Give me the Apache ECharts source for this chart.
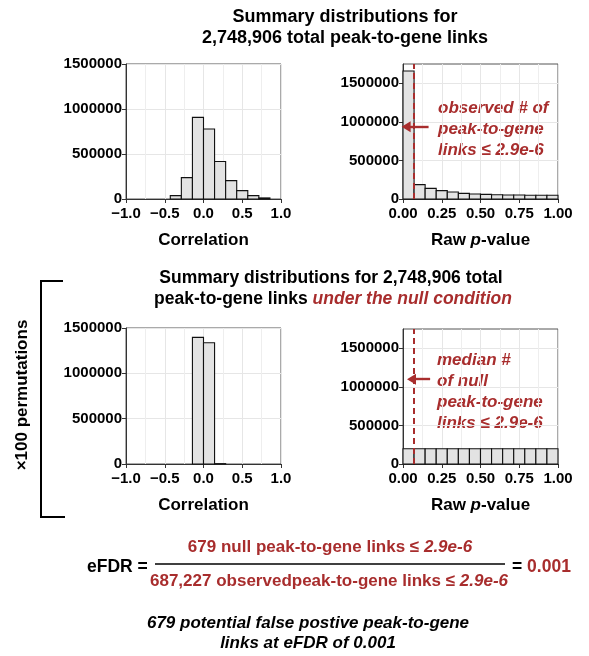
<!DOCTYPE html>
<html><head><meta charset="utf-8">
<script src="https://cdn.jsdelivr.net/npm/echarts@6/dist/echarts.min.js"></script>
<style>html,body{margin:0;padding:0;background:#fff}#c{width:589px;height:656px}</style>
</head><body><div id="c"></div>
<script>
// ---- data ----
const corrTicks = [-1, -0.5, 0, 0.5, 1];
const pTicks = [0, 0.25, 0.5, 0.75, 1];
const countTicks = [0, 500000, 1000000, 1500000];

const corrBinWidth = 0.142857;
const obsCorrBinLeft = [-0.428571, -0.285714, -0.142857, 0, 0.142857, 0.285714, 0.428571, 0.571429, 0.714286];
const obsCorrCounts = [37000, 238000, 907000, 777000, 416000, 204000, 93000, 37000, 12000];

const nullCorrBinLeft = [-0.142857, 0, 0.142857];
const nullCorrCounts = [1397000, 1338000, 4000];

const pBinWidth = 0.0714286;
const pBinLeft = [0, 0.071429, 0.142857, 0.214286, 0.285714, 0.357143, 0.428571, 0.5, 0.571429, 0.642857, 0.714286, 0.785714, 0.857143, 0.928571];
const obsPCounts = [1660000, 186000, 138000, 108000, 91000, 73000, 65000, 60000, 56000, 52000, 52000, 48000, 48000, 48000];
const nullPCounts = [198000, 198000, 198000, 198000, 198000, 198000, 198000, 198000, 198000, 198000, 198000, 198000, 198000, 198000];

const pThreshold = 0.0714;          // x position of dashed threshold line
const obsArrow = [[0.165, 935000], [0.02, 935000]];
const nullArrow = [[0.175, 1100000], [0.055, 1100000]];

// ---- style ----
const RED = '#a82d2d';
const FONT = 'Liberation Sans, Arial, sans-serif';
const grids = [
  {left: 126, top: 64, width: 155, height: 135},
  {left: 403, top: 64, width: 155, height: 135},
  {left: 126, top: 328, width: 155, height: 136},
  {left: 403, top: 329, width: 155, height: 135}
];
grids.forEach(g => Object.assign(g, {show: true, backgroundColor: '#fff', borderColor: '#555', borderWidth: 1, containLabel: false}));

const labelStyle = {color: '#000', fontSize: 15, fontWeight: 'bold', fontFamily: FONT};
const nameStyle = {color: '#000', fontSize: 17, fontWeight: 'bold', fontFamily: FONT};
function fmtCorr(v){ return (v < 0 ? '\u2212' : '') + Math.abs(v).toFixed(1); }
function fmtP(v){ return v.toFixed(2); }
function fmtCount(v){ return String(Math.round(v)); }

function xAxis(gi, isP){
  return {
    type: 'value', gridIndex: gi, min: isP ? 0 : -1, max: 1,
    interval: isP ? 0.25 : 0.5,
    axisLine: {show: true, onZero: false, lineStyle: {color: '#333', width: 1}},
    axisTick: {show: true, length: 4, lineStyle: {color: '#333'}, customValues: isP ? pTicks : corrTicks},
    axisLabel: Object.assign({margin: 7, formatter: isP ? fmtP : fmtCorr, customValues: isP ? pTicks : corrTicks}, labelStyle),
    splitLine: {show: true, lineStyle: {color: '#e6e6e6', width: 1}},
    minorTick: {show: false, splitNumber: 2},
    minorSplitLine: {show: true, lineStyle: {color: '#eeeeee', width: 1}},
    name: isP ? '{a|Raw }{b|p}{a|-value}' : 'Correlation',
    nameLocation: 'middle', nameGap: 33,
    nameTextStyle: Object.assign({
      rich: {a: Object.assign({}, nameStyle), b: Object.assign({fontStyle: 'italic'}, nameStyle)}
    }, nameStyle)
  };
}
function yAxis(gi, max){
  return {
    type: 'value', gridIndex: gi, min: 0, max: max, interval: 250000,
    axisLine: {show: true, onZero: false, lineStyle: {color: '#333', width: 1}},
    axisTick: {show: true, length: 4, lineStyle: {color: '#333'}, customValues: countTicks},
    axisLabel: Object.assign({margin: 4, formatter: fmtCount, customValues: countTicks}, labelStyle),
    splitLine: {show: true, lineStyle: {color: '#e6e6e6', width: 1}}
  };
}

function histData(lefts, width, counts){
  return lefts.map((l, i) => [l, l + width, counts[i]]);
}
function renderBar(params, api){
  const p0 = api.coord([api.value(0), api.value(2)]);
  const p1 = api.coord([api.value(1), 0]);
  return {type: 'rect', shape: {x: p0[0], y: p0[1], width: p1[0] - p0[0], height: p1[1] - p0[1]},
    style: {fill: '#e3e3e3', stroke: '#111', lineWidth: 1.1}};
}
function histSeries(gi, data, markLineData){
  const s = {type: 'custom', xAxisIndex: gi, yAxisIndex: gi, renderItem: renderBar, data: data,
    encode: {x: [0, 1], y: 2}, silent: true, z: 2};
  if (markLineData){
    s.markLine = {silent: true, symbol: ['none', 'none'], label: {show: false}, animation: false, z: 5,
      data: markLineData};
  }
  return s;
}
function markLines(arrow){
  return [
    {xAxis: pThreshold, lineStyle: {color: RED, width: 2, type: [6, 4]}},
    [
      {coord: arrow[0], symbol: 'none', lineStyle: {color: RED, width: 2.4, type: 'solid'}},
      {coord: arrow[1], symbol: 'triangle', symbolSize: [11, 9], symbolRotate: 90}
    ]
  ];
}

const txt = (x, y, text, opt, extra) => Object.assign({type: 'text', x: x, y: y, silent: true,
  style: Object.assign({text: text, fill: '#000', font: 'bold 17px ' + FONT, align: 'center', verticalAlign: 'middle'}, opt || {})}, extra || {});
const redIt = {fill: RED, font: 'italic bold 17px ' + FONT, align: 'left'};
const eqRich = {r: {fill: RED, font: 'bold 17px ' + FONT}, i: {fill: RED, font: 'italic bold 17px ' + FONT}};

const option = {
  animation: false,
  backgroundColor: '#fff',
  grid: grids,
  xAxis: [xAxis(0, false), xAxis(1, true), xAxis(2, false), xAxis(3, true)],
  yAxis: [yAxis(0, 1500000), yAxis(1, 1750000), yAxis(2, 1500000), yAxis(3, 1750000)],
  series: [
    histSeries(0, histData(obsCorrBinLeft, corrBinWidth, obsCorrCounts)),
    histSeries(1, histData(pBinLeft, pBinWidth, obsPCounts), markLines(obsArrow)),
    histSeries(2, histData(nullCorrBinLeft, corrBinWidth, nullCorrCounts)),
    histSeries(3, histData(pBinLeft, pBinWidth, nullPCounts), markLines(nullArrow))
  ],
  graphic: [
    txt(345, 17, 'Summary distributions for', {font: 'bold 18px ' + FONT}),
    txt(345, 38, '2,748,906 total peak-to-gene links', {font: 'bold 18px ' + FONT}),
    txt(331, 278, 'Summary distributions for 2,748,906 total', {font: 'bold 17.5px ' + FONT}),
    txt(333, 299, '{a|peak-to-gene links }{r|under the null condition}', {
      rich: {a: {fill: '#000', font: 'bold 17.5px ' + FONT}, r: {fill: RED, font: 'italic bold 17.5px ' + FONT}}}),
    txt(438, 108, 'observed # of', redIt),
    txt(438, 129, 'peak-to-gene', redIt),
    txt(438, 150, 'links \u2264 2.9e-6', redIt),
    txt(437, 360, 'median #', redIt),
    txt(437, 381, 'of null', redIt),
    txt(437, 402, 'peak-to-gene', redIt),
    txt(437, 423, 'links \u2264 2.9e-6', redIt),
    // bracket
    {type: 'polyline', silent: true, shape: {points: [[63, 281], [41, 281], [41, 517], [65, 517]]},
      style: {stroke: '#000', lineWidth: 2, fill: null}},
    txt(22, 395, '\u00d7100 permutations', {font: 'bold 17px ' + FONT}, {rotation: Math.PI / 2}),
    // equation
    txt(87, 567, 'eFDR =', {align: 'left', font: 'bold 17.5px ' + FONT}),
    {type: 'line', silent: true, shape: {x1: 155, y1: 564, x2: 505, y2: 564}, style: {stroke: '#000', lineWidth: 1.6}},
    txt(330, 547, '{r|679 null peak-to-gene links \u2264 }{i|2.9e-6}', {rich: eqRich}),
    txt(329, 581, '{r|687,227 observedpeak-to-gene links \u2264 }{i|2.9e-6}', {rich: eqRich}),
    txt(512, 567, '{k|= }{r|0.001}', {align: 'left',
      rich: {k: {fill: '#000', font: 'bold 17.5px ' + FONT}, r: {fill: RED, font: 'bold 17.5px ' + FONT}}}),
    txt(308, 623, '679 potential false postive peak-to-gene', {font: 'italic bold 17px ' + FONT}),
    txt(308, 643, 'links at eFDR of 0.001', {font: 'italic bold 17px ' + FONT})
  ]
};
const chart = echarts.init(document.getElementById('c'), null, {renderer: 'canvas'});
chart.setOption(option);
</script></body></html>
